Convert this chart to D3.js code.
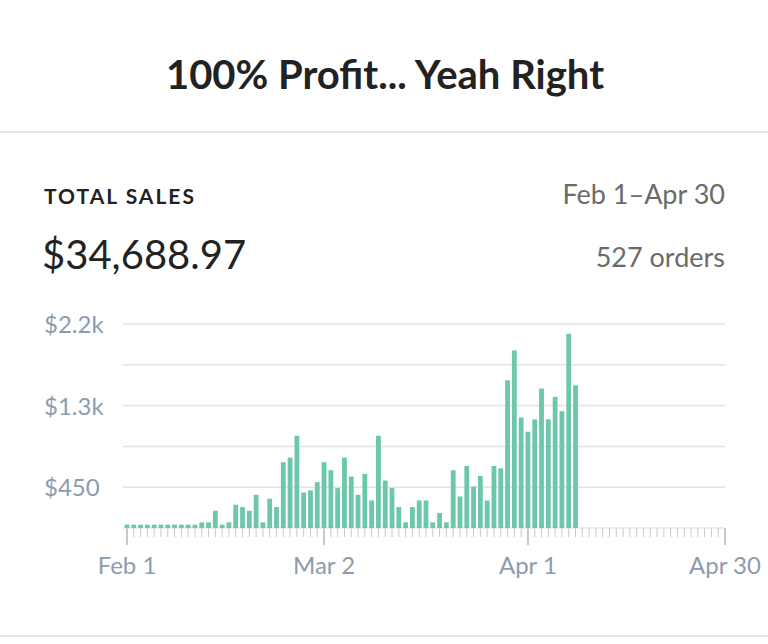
<!DOCTYPE html>
<html><head><meta charset="utf-8">
<script src="https://cdn.jsdelivr.net/npm/d3@7"></script>
<style>body{margin:0;background:#fff;font-family:Lato,"Open Sans",sans-serif}</style>
</head><body><svg id="viz" width="768" height="644"></svg>
<script>
// daily sales Feb 1 - Apr 30
var sales = [36,36,36,36,36,36,36,36,36,36,36,61,61,186,36,61,251,226,186,358,
  61,315,226,709,759,995,383,405,494,709,623,430,759,555,358,584,297,995,512,430,
  226,61,226,297,297,61,161,61,623,340,669,448,562,297,669,644,1593,1915,1192,1038,
  1171,1504,1171,1414,1260,2094,1539]
while (sales.length < 89) sales.push(0)
var gridVals = [0, 440, 880, 1320, 1760, 2200]
var yLabels = [{v: 440, t: "$450"}, {v: 1320, t: "$1.3k"}, {v: 2200, t: "$2.2k"}]
var xLabels = [{d: 0, t: "Feb 1"}, {d: 29, t: "Mar 2"}, {d: 59, t: "Apr 1"}, {d: 88, t: "Apr 30"}]

var svg = d3.select("#viz")
var x = d3.scaleLinear().domain([0, 88]).range([127, 725])
var y = d3.scaleLinear().domain([0, 2200]).range([528, 324])

svg.append("text").attr("x", 385).attr("y", 89).attr("text-anchor", "middle")
  .style("font-size", "40px").style("font-weight", "bold").attr("fill", "#222")
  .text("100% Profit... Yeah Right")
svg.append("line").attr("x1", 0).attr("x2", 768).attr("y1", 132).attr("y2", 132).attr("stroke", "#e6e6e6").attr("stroke-width", 2)
svg.append("line").attr("x1", 0).attr("x2", 768).attr("y1", 636).attr("y2", 636).attr("stroke", "#e6e6e6").attr("stroke-width", 2)

svg.append("text").attr("x", 44).attr("y", 204).style("font-size", "21px").style("font-weight", "bold")
  .style("letter-spacing", "2px").attr("fill", "#222").text("TOTAL SALES")
svg.append("text").attr("x", 42).attr("y", 269).style("font-size", "40px").attr("fill", "#222").text("$34,688.97")
svg.append("text").attr("x", 725).attr("y", 204).attr("text-anchor", "end").style("font-size", "27px").attr("fill", "#6b6b6b").text("Feb 1–Apr 30")
svg.append("text").attr("x", 725).attr("y", 267).attr("text-anchor", "end").style("font-size", "27px").attr("fill", "#6b6b6b").text("527 orders")

svg.append("g").selectAll("line").data(gridVals.slice(1)).enter().append("line")
  .attr("x1", 123).attr("x2", 725).attr("y1", d => y(d)).attr("y2", d => y(d))
  .attr("stroke", "#e3e3e3").attr("stroke-width", 1.5)
svg.append("g").selectAll("text").data(yLabels).enter().append("text")
  .attr("x", 44).attr("y", d => y(d.v) + 9).style("font-size", "24px").attr("fill", "#8c9cae").text(d => d.t)

// day ticks
svg.append("g").selectAll("line").data(d3.range(89)).enter().append("line")
  .attr("x1", d => x(d)).attr("x2", d => x(d)).attr("y1", 528)
  .attr("y2", d => xLabels.some(l => l.d == d) ? 545 : 537)
  .attr("stroke", "#c4c9cf").attr("stroke-width", d => xLabels.some(l => l.d == d) ? 2 : 1)
svg.append("line").attr("x1", 123).attr("x2", 725).attr("y1", 528).attr("y2", 528).attr("stroke", "#d5d9dd")

svg.append("g").selectAll("rect").data(sales).enter().append("rect")
  .attr("x", (d, i) => x(i) - 2.4).attr("width", 4.8)
  .attr("y", d => y(d)).attr("height", d => 528 - y(d))
  .attr("fill", "#6cc7ac")

svg.append("g").selectAll("text").data(xLabels).enter().append("text")
  .attr("x", d => x(d.d)).attr("y", 574).attr("text-anchor", "middle")
  .style("font-size", "24px").attr("fill", "#8c9cae").text(d => d.t)
</script></body></html>
